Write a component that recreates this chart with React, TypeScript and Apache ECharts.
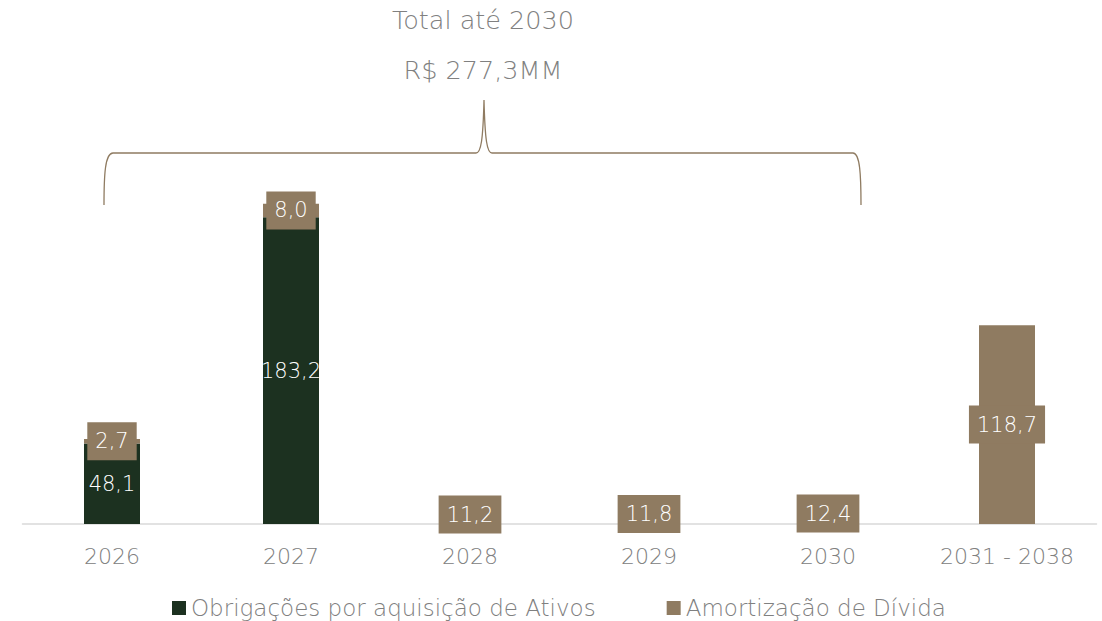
import React, { useEffect, useRef } from "react";
import * as echarts from "echarts";

const categories = ["2026", "2027", "2028", "2029", "2030", "2031 - 2038"];
const obrigacoes: (number | null)[] = [48.1, 183.2, null, null, null, null];
const amortizacao: number[] = [2.7, 8.0, 11.2, 11.8, 12.4, 118.7];
const seriesNames = ["Obrigações por aquisição de Ativos", "Amortização de Dívida"];
const titleLines = ["Total até 2030", "R$ 277,3MM"];

const GREEN = "#1c3120";
const BROWN = "#8f7b61";
const GRAY = "#808080";
const FONT = "'DejaVu Sans'";
const WEIGHT = 200;

const braceD =
  "M104 205 C104 175 105 153 113 153 L476 153 C481 153 483 140 484 100 C485 140 487 153 492 153 L853 153 C860 153 861 175 861 205";

echarts.graphic.registerShape("brace", echarts.graphic.extendPath(braceD, {}) as any);

const fmt = (p: any) => (p.value == null ? "" : Number(p.value).toFixed(1).replace(".", ","));

export default function App() {
  const ref = useRef<HTMLDivElement>(null);
  useEffect(() => {
    if (!ref.current) return;
    const chart = echarts.init(ref.current, undefined, { renderer: "svg" });
    chart.setOption({
      animation: false,
      textStyle: { fontFamily: FONT, fontWeight: WEIGHT },
      grid: { left: 22.5, right: 5.5, top: 189, bottom: 97, containLabel: false },
      legend: {
        data: seriesNames,
        left: 172,
        top: 595,
        padding: 0,
        icon: "rect",
        itemWidth: 14,
        itemHeight: 14,
        itemGap: 71,
        textStyle: { color: GRAY, fontSize: 23, lineHeight: 26, fontFamily: FONT, fontWeight: WEIGHT },
      },
      xAxis: {
        type: "category",
        data: categories,
        axisLine: { lineStyle: { color: "#d9d9d9", width: 1.5 } },
        axisTick: { show: false },
        axisLabel: { color: GRAY, fontSize: 22, fontFamily: FONT, fontWeight: WEIGHT, margin: 21 },
      },
      yAxis: {
        type: "value",
        min: 0,
        max: 200,
        show: false,
        splitLine: { show: false },
      },
      graphic: [
        {
          type: "brace",
          x: 0,
          y: 0,
          style: { fill: "none", stroke: BROWN, lineWidth: 1.3 },
          silent: true,
        },
        {
          type: "text",
          x: 483,
          y: 20,
          style: {
            text: titleLines[0],
            fill: GRAY,
            font: `${WEIGHT} 25.5px ${FONT}`,
            textAlign: "center",
            textVerticalAlign: "middle",
          },
        },
        {
          type: "text",
          x: 483,
          y: 70,
          style: {
            text: titleLines[1],
            fill: GRAY,
            font: `${WEIGHT} 25.5px ${FONT}`,
            textAlign: "center",
            textVerticalAlign: "middle",
          },
        },
      ],
      series: [
        {
          name: seriesNames[0],
          type: "bar",
          stack: "total",
          barWidth: 56,
          data: obrigacoes,
          itemStyle: { color: GREEN },
          label: {
            show: true,
            position: "inside",
            color: "#ffffff",
            fontSize: 21,
            fontFamily: FONT,
            fontWeight: WEIGHT,
            formatter: fmt,
          },
        },
        {
          name: seriesNames[1],
          type: "bar",
          stack: "total",
          barWidth: 56,
          data: amortizacao,
          itemStyle: { color: BROWN },
          label: {
            show: true,
            position: "inside",
            color: "#ffffff",
            fontSize: 21,
            fontFamily: FONT,
            fontWeight: WEIGHT,
            backgroundColor: BROWN,
            padding: [6, 8],
            lineHeight: 26,
            formatter: fmt,
          },
        },
      ],
    });
    return () => chart.dispose();
  }, []);
  return (
    <div
      ref={ref}
      style={{ position: "fixed", left: 0, top: 0, width: 1102, height: 621, background: "#ffffff" }}
    />
  );
}
